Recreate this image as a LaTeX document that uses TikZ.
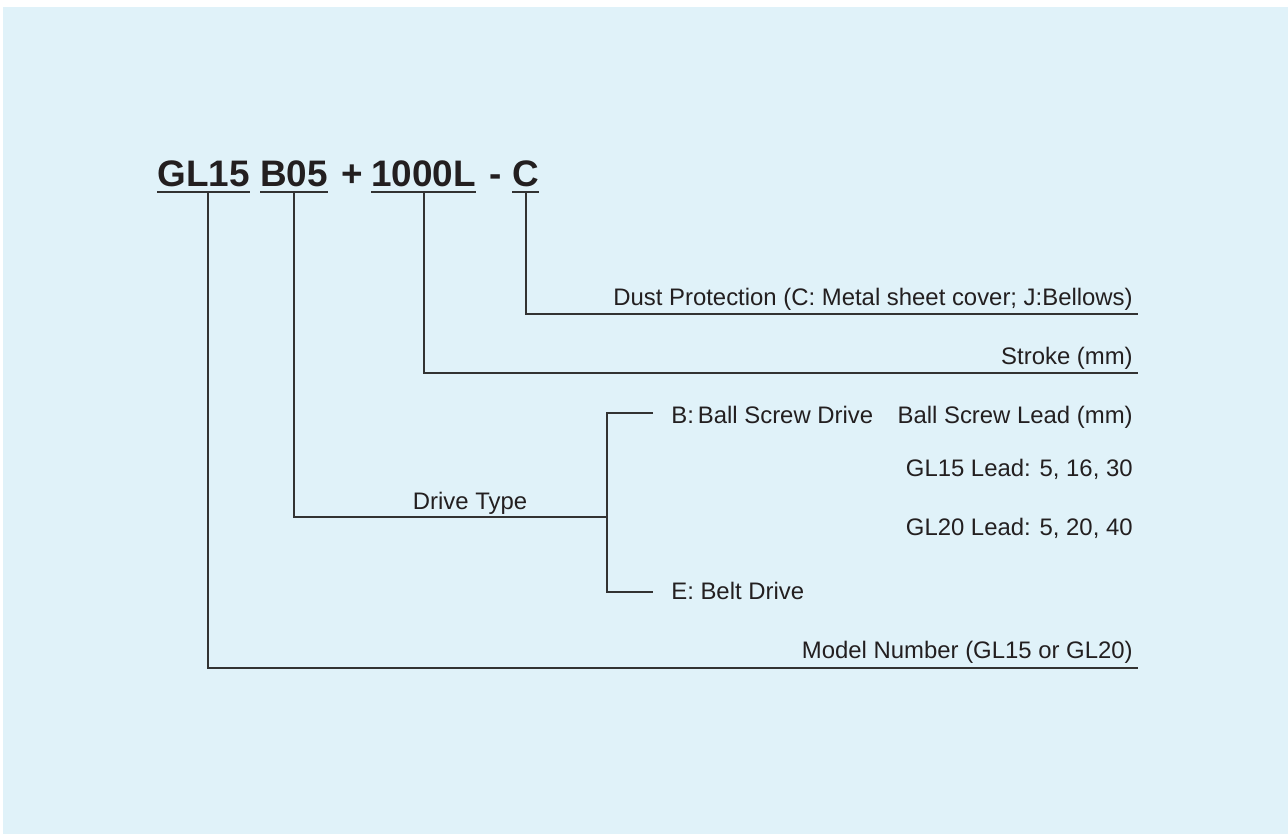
\documentclass[tikz,border=0pt]{standalone}
\usepackage{fontspec}
\setmainfont{Liberation Sans}
\usetikzlibrary{calc}
\definecolor{bgblue}{HTML}{E0F2F9}
\definecolor{linegray}{HTML}{333333}
\definecolor{inkgray}{HTML}{231F20}
\tikzset{
  lead/.style={draw=linegray,line width=0.8pt},
  code/.style={font=\bfseries\fontsize{21}{24}\selectfont,inner sep=0pt,anchor=base west,text=inkgray},
  lbl/.style={font=\fontsize{13.6}{16}\selectfont,inner sep=0pt,anchor=base east,text=inkgray},
  lblw/.style={lbl,anchor=base west}
}
\newcommand{\uline}[1]{\draw[lead] ($(#1.base west)+(0,5)$) -- ($(#1.base east)+(0,5)$)}

\begin{document}
\begin{tikzpicture}[x=0.02cm,y=-0.02cm]
      \useasboundingbox (0,0) rectangle (1288,834);
      \fill[bgblue] (3,7) rectangle (1288,834);
      % order code
      \node[code] (model) at (157,187) {GL15};
      \node[code] (drive) at (260,187) {B05};
      \node[code] (plus) at (341,187) {+};
      \node[code] (stroke) at (371,187) {1000L};
      \node[code] (minus) at (489,187) {-};
      \node[code] (cover) at (512,187) {C};
      \uline{model}; \uline{drive}; \uline{stroke}; \uline{cover};
      % leaders
      \coordinate (modelT) at (208,192);
      \coordinate (driveT) at (294,192);
      \coordinate (strokeT) at (424,192);
      \coordinate (coverT) at (526,192);
      \coordinate (coverE) at (1138,314);
      \coordinate (strokeE) at (1138,373);
      \coordinate (driveE) at (607,517);
      \coordinate (modelE) at (1138,668);
      \draw[lead] (coverT) |- (coverE);
      \draw[lead] (strokeT) |- (strokeE);
      \draw[lead] (driveT) |- (driveE);
      \draw[lead] (modelT) |- (modelE);
      % drive branch
      \coordinate (ballE) at (653,413);
      \coordinate (beltE) at (653,592);
      \draw[lead] (ballE) -| (driveE) |- (beltE);
      % labels
      \node[lbl] (coverL) at (1133,306) {Dust Protection (C: Metal sheet cover; J:Bellows)};
      \node[lbl] (strokeL) at (1133,365) {Stroke (mm)};
      \node[lbl] (leadL) at (1133,423) {Ball Screw Lead (mm)};
      \node[lbl] (gl15L) at (1133,476) {GL15 Lead: 5, 16, 30};
      \node[lbl] (gl20L) at (1133,535) {GL20 Lead: 5, 20, 40};
      \node[lbl] (modelL) at (1133,658) {Model Number (GL15 or GL20)};
      \node[lblw] (ballL) at (671,423) {B:\,Ball Screw Drive};
      \node[lblw] (beltL) at (671,599) {E: Belt Drive};
      \node[lbl,anchor=base] (driveL) at (470,509) {Drive Type};
\end{tikzpicture}
\end{document}
